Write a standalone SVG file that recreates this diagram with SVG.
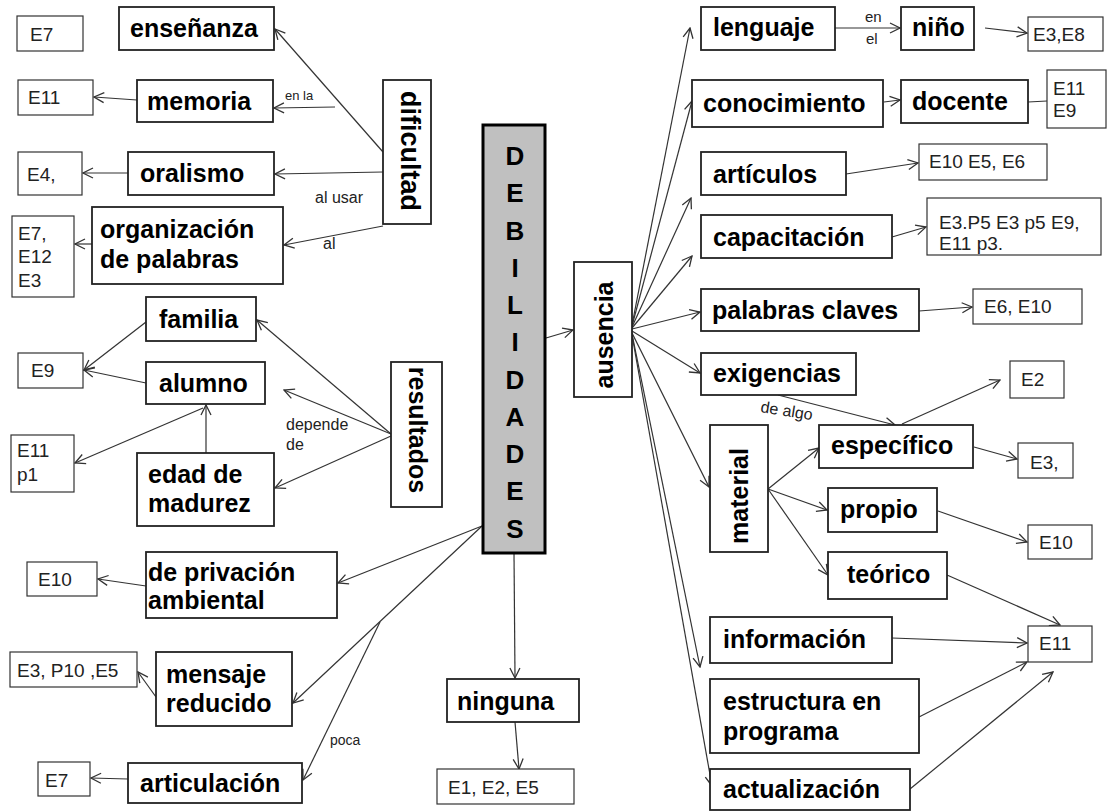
<svg xmlns="http://www.w3.org/2000/svg" width="1108" height="811" viewBox="0 0 1108 811">
<style>
.nb{fill:#fff;stroke:#222;stroke-width:1.8}
.ne{fill:#fff;stroke:#333;stroke-width:1.2}
.b{font-family:"Liberation Sans",Arial,sans-serif;font-weight:bold;font-size:25px;fill:#000}
.e{font-family:"Liberation Sans",Arial,sans-serif;font-size:19px;fill:#222}
.l{font-family:"Liberation Sans",Arial,sans-serif;font-size:15px;fill:#222}
.c line{stroke:#333;stroke-width:1.2;marker-end:url(#arr)}
.c line.n{marker-end:none}
</style>
<defs>
<marker id="arr" viewBox="0 0 12 12" refX="11" refY="6" markerWidth="12" markerHeight="12" markerUnits="userSpaceOnUse" orient="auto">
<path d="M1,1 L11,6 L1,11" fill="none" stroke="#333" stroke-width="1.3"/>
</marker>
</defs>
<rect width="1108" height="811" fill="#fff"/>
<g id="connectors" class="c">
<line x1="383" y1="152" x2="275" y2="29"/>
<line x1="335" y1="107" x2="274" y2="108"/>
<line x1="137" y1="100" x2="94" y2="97"/>
<line x1="383" y1="172" x2="275" y2="174"/>
<line x1="128" y1="173" x2="83" y2="173"/>
<line x1="383" y1="226" x2="284" y2="245"/>
<line x1="92" y1="244" x2="75" y2="244"/>
<line x1="391" y1="434" x2="257" y2="320"/>
<line x1="391" y1="434" x2="284" y2="390"/>
<line x1="391" y1="436" x2="275" y2="488"/>
<line x1="146" y1="322" x2="84" y2="370"/>
<line x1="146" y1="383" x2="84" y2="370"/>
<line x1="206" y1="453" x2="206" y2="405"/>
<line x1="203" y1="408" x2="75" y2="463"/>
<line x1="482" y1="526" x2="338" y2="583"/>
<line x1="482" y1="526" x2="293" y2="703"/>
<line x1="380" y1="622" x2="303" y2="780"/>
<line x1="146" y1="586" x2="98" y2="579"/>
<line x1="156" y1="697" x2="138" y2="672"/>
<line x1="128" y1="779" x2="91" y2="778"/>
<line x1="514" y1="553" x2="515" y2="678"/>
<line x1="515" y1="722" x2="519" y2="769"/>
<line x1="546" y1="338" x2="573" y2="330"/>
<line x1="632" y1="325" x2="690" y2="28"/>
<line x1="632" y1="326" x2="692" y2="101"/>
<line x1="632" y1="327" x2="691" y2="198"/>
<line x1="632" y1="328" x2="692" y2="256"/>
<line x1="632" y1="329" x2="700" y2="312"/>
<line x1="632" y1="331" x2="700" y2="373"/>
<line x1="632" y1="333" x2="709" y2="487"/>
<line x1="632" y1="334" x2="700" y2="667"/>
<line x1="632" y1="335" x2="712" y2="786"/>
<line x1="835" y1="28" x2="900" y2="28"/>
<line x1="985" y1="28" x2="1027" y2="33"/>
<line x1="884" y1="102" x2="900" y2="100"/>
<line class="n" x1="1028" y1="102" x2="1047" y2="101"/>
<line x1="846" y1="174" x2="918" y2="163"/>
<line x1="892" y1="237" x2="926" y2="227"/>
<line x1="919" y1="311" x2="972" y2="307"/>
<line x1="778" y1="395" x2="895" y2="425"/>
<line x1="902" y1="424" x2="1000" y2="380"/>
<line x1="974" y1="447" x2="1017" y2="459"/>
<line x1="768" y1="489" x2="819" y2="448"/>
<line x1="768" y1="489" x2="827" y2="510"/>
<line x1="768" y1="489" x2="828" y2="575"/>
<line x1="938" y1="511" x2="1027" y2="542"/>
<line x1="947" y1="575" x2="1060" y2="625"/>
<line x1="892" y1="638" x2="1027" y2="643"/>
<line x1="919" y1="717" x2="1027" y2="662"/>
<line x1="910" y1="789" x2="1053" y2="672"/>
</g>
<g id="edge-labels">
<text class="l" x="285" y="100" style="font-size:13px">en la</text>
<text class="l" x="315" y="203" style="font-size:16px">al usar</text>
<text class="l" x="323" y="249" style="font-size:16px">al</text>
<text class="l" x="286" y="430" style="font-size:16px">depende</text>
<text class="l" x="286" y="450" style="font-size:16px">de</text>
<text class="l" x="330" y="745" style="font-size:14px">poca</text>
<text class="l" x="865" y="22">en</text>
<text class="l" x="866" y="44">el</text>
<text class="l" x="760" y="412" style="font-size:16px" transform="rotate(9 760 412)">de algo</text>
</g>
<g id="n-debilidades">
<rect x="483" y="125" width="62" height="428" fill="#c0c0c0" stroke="#000" stroke-width="3"/>
<text class="b" text-anchor="middle" style="font-size:26px">
<tspan x="515" y="165">D</tspan><tspan x="515" y="202">E</tspan><tspan x="515" y="240">B</tspan><tspan x="515" y="277">I</tspan><tspan x="515" y="314">L</tspan><tspan x="515" y="351">I</tspan><tspan x="515" y="389">D</tspan><tspan x="515" y="426">A</tspan><tspan x="515" y="463">D</tspan><tspan x="515" y="500">E</tspan><tspan x="515" y="538">S</tspan>
</text>
</g>
<g id="n-e7a"><rect class="ne" x="17" y="16" width="66" height="35"/><text class="e" x="30" y="41">E7</text></g>
<g id="n-ensenanza"><rect class="nb" x="119" y="7" width="155" height="43"/><text class="b" x="130" y="37">enseñanza</text></g>
<g id="n-e11a"><rect class="ne" x="18" y="80" width="75" height="35"/><text class="e" x="28" y="104">E11</text></g>
<g id="n-memoria"><rect class="nb" x="137" y="80" width="136" height="42"/><text class="b" x="147" y="110">memoria</text></g>
<g id="n-dificultad"><rect class="nb" x="383" y="80" width="48" height="144"/><text class="b" text-anchor="middle" transform="translate(401,151) rotate(90)" style="font-size:27px">dificultad</text></g>
<g id="n-e4"><rect class="ne" x="18" y="152" width="64" height="43"/><text class="e" x="27" y="181">E4,</text></g>
<g id="n-oralismo"><rect class="nb" x="128" y="152" width="146" height="43"/><text class="b" x="140" y="182">oralismo</text></g>
<g id="n-organizacion"><rect class="nb" x="92" y="207" width="191" height="77"/><text class="b" x="100" y="238">organización</text><text class="b" x="100" y="268">de palabras</text></g>
<g id="n-e7b"><rect class="ne" x="12" y="216" width="62" height="81"/><text class="e" x="18" y="240">E7,</text><text class="e" x="18" y="263">E12</text><text class="e" x="18" y="287">E3</text></g>
<g id="n-familia"><rect class="nb" x="146" y="297" width="110" height="44"/><text class="b" x="159" y="328">familia</text></g>
<g id="n-e9"><rect class="ne" x="18" y="353" width="65" height="35"/><text class="e" x="31" y="377">E9</text></g>
<g id="n-alumno"><rect class="nb" x="146" y="362" width="119" height="42"/><text class="b" x="159" y="392">alumno</text></g>
<g id="n-e11p1"><rect class="ne" x="11" y="435" width="63" height="57"/><text class="e" x="17" y="457">E11</text><text class="e" x="17" y="481">p1</text></g>
<g id="n-edad"><rect class="nb" x="137" y="453" width="137" height="73"/><text class="b" x="148" y="483">edad de</text><text class="b" x="148" y="512">madurez</text></g>
<g id="n-resultados"><rect class="nb" x="391" y="362" width="51" height="145"/><text class="b" text-anchor="middle" transform="translate(409,430) rotate(90)">resultados</text></g>
<g id="n-e10a"><rect class="ne" x="27" y="562" width="70" height="34"/><text class="e" x="38" y="586">E10</text></g>
<g id="n-privacion"><rect class="nb" x="146" y="552" width="191" height="66"/><text class="b" x="148" y="581">de privación</text><text class="b" x="148" y="609">ambiental</text></g>
<g id="n-e3p10"><rect class="ne" x="10" y="652" width="127" height="35"/><text class="e" x="17" y="677">E3, P10 ,E5</text></g>
<g id="n-mensaje"><rect class="nb" x="156" y="652" width="136" height="74"/><text class="b" x="166" y="683">mensaje</text><text class="b" x="166" y="712">reducido</text></g>
<g id="n-e7c"><rect class="ne" x="38" y="762" width="52" height="34"/><text class="e" x="45" y="787">E7</text></g>
<g id="n-articulacion"><rect class="nb" x="128" y="763" width="174" height="40"/><text class="b" x="140" y="792">articulación</text></g>
<g id="n-ninguna"><rect class="nb" x="447" y="679" width="132" height="43"/><text class="b" x="457" y="710">ninguna</text></g>
<g id="n-e1e2e5"><rect class="ne" x="437" y="769" width="137" height="35"/><text class="e" x="448" y="794">E1, E2, E5</text></g>
<g id="n-ausencia"><rect class="nb" x="574" y="262" width="58" height="135"/><text class="b" text-anchor="middle" transform="translate(613,335) rotate(-90)">ausencia</text></g>
<g id="n-lenguaje"><rect class="nb" x="701" y="7" width="134" height="43"/><text class="b" x="713" y="36">lenguaje</text></g>
<g id="n-nino"><rect class="nb" x="901" y="7" width="73" height="43"/><text class="b" x="912" y="36">niño</text></g>
<g id="n-e3e8"><rect class="ne" x="1028" y="17" width="75" height="34"/><text class="e" x="1033" y="41">E3,E8</text></g>
<g id="n-conocimiento"><rect class="nb" x="692" y="80" width="191" height="47"/><text class="b" x="703" y="112">conocimiento</text></g>
<g id="n-docente"><rect class="nb" x="901" y="80" width="127" height="43"/><text class="b" x="912" y="110">docente</text></g>
<g id="n-e11e9"><rect class="ne" x="1047" y="70" width="59" height="58"/><text class="e" x="1053" y="95">E11</text><text class="e" x="1053" y="117">E9</text></g>
<g id="n-articulos"><rect class="nb" x="701" y="152" width="145" height="43"/><text class="b" x="713" y="183">artículos</text></g>
<g id="n-e10e5e6"><rect class="ne" x="919" y="144" width="128" height="36"/><text class="e" x="929" y="168">E10 E5, E6</text></g>
<g id="n-capacitacion"><rect class="nb" x="701" y="215" width="191" height="43"/><text class="b" x="713" y="246">capacitación</text></g>
<g id="n-e3p5"><rect class="ne" x="927" y="198" width="174" height="57"/><text class="e" x="939" y="229">E3.P5 E3 p5 E9,</text><text class="e" x="939" y="250">E11 p3.</text></g>
<g id="n-palabras"><rect class="nb" x="701" y="289" width="218" height="42"/><text class="b" x="712" y="319">palabras claves</text></g>
<g id="n-e6e10"><rect class="ne" x="973" y="289" width="109" height="35"/><text class="e" x="984" y="313">E6, E10</text></g>
<g id="n-exigencias"><rect class="nb" x="701" y="353" width="155" height="42"/><text class="b" x="713" y="382">exigencias</text></g>
<g id="n-e2"><rect class="ne" x="1010" y="361" width="54" height="37"/><text class="e" x="1021" y="386">E2</text></g>
<g id="n-material"><rect class="nb" x="710" y="425" width="58" height="127"/><text class="b" text-anchor="middle" transform="translate(748,496) rotate(-90)">material</text></g>
<g id="n-especifico"><rect class="nb" x="819" y="425" width="154" height="43"/><text class="b" x="831" y="454">específico</text></g>
<g id="n-e3"><rect class="ne" x="1018" y="443" width="55" height="35"/><text class="e" x="1030" y="469">E3,</text></g>
<g id="n-propio"><rect class="nb" x="828" y="488" width="109" height="44"/><text class="b" x="840" y="518">propio</text></g>
<g id="n-e10b"><rect class="ne" x="1028" y="525" width="64" height="34"/><text class="e" x="1039" y="549">E10</text></g>
<g id="n-teorico"><rect class="nb" x="828" y="552" width="119" height="47"/><text class="b" x="847" y="583">teórico</text></g>
<g id="n-e11b"><rect class="ne" x="1028" y="626" width="64" height="36"/><text class="e" x="1039" y="650">E11</text></g>
<g id="n-informacion"><rect class="nb" x="710" y="617" width="182" height="46"/><text class="b" x="723" y="648">información</text></g>
<g id="n-estructura"><rect class="nb" x="710" y="679" width="209" height="74"/><text class="b" x="723" y="710">estructura en</text><text class="b" x="723" y="740">programa</text></g>
<g id="n-actualizacion"><rect class="nb" x="710" y="769" width="200" height="41"/><text class="b" x="723" y="798">actualización</text></g>
</svg>
